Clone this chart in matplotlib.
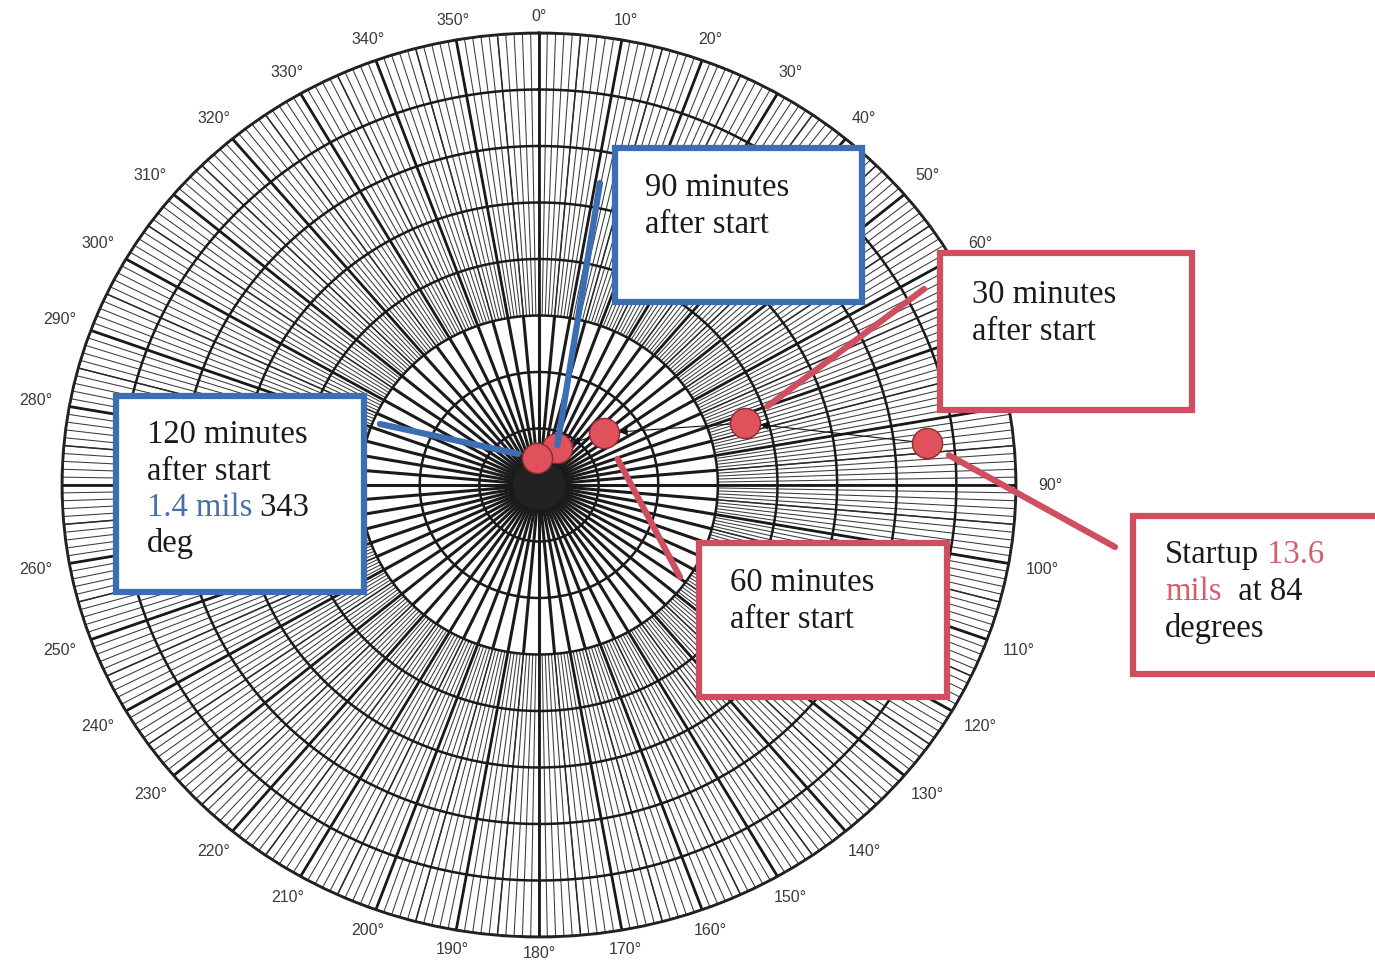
import numpy as np
import matplotlib
matplotlib.use("Agg")
import matplotlib.pyplot as plt
from matplotlib.patches import Rectangle
from matplotlib.text import Annotation

# Data: vibration amplitude (mils) and phase angle (deg)
labels = ["Startup", "30 minutes", "60 minutes", "90 minutes", "120 minutes"]
amplitude = [13.1, 7.25, 2.85, 1.44, 0.96]
phase_deg = [83.5, 72.4, 49.8, 24.6, 356.0]

# Polar paper scale
r_max = 16
ring_step = 2
inner_zone = 6
# 70/80 sit under the 30-minute box, 270 is not printed on the sheet
angle_labels = [a for a in range(0, 360, 10) if a not in (70, 80, 270)]

W, H = 1375, 964
fig = plt.figure(figsize=(W / 100, H / 100), dpi=100)
fig.patch.set_facecolor("white")


def fx(px):
    return px / W


def fy(py):
    return 1 - py / H


# Polar axes stretched like the scanned sheet
ax = fig.add_axes([fx(62), fy(937), fx(1016) - fx(62), fy(33) - fy(937)], projection="polar")
ax.set_aspect("auto")
ax.set_theta_zero_location("N")
ax.set_theta_direction(-1)
ax.set_ylim(0, r_max)
ax.set_xticks([])
ax.set_yticks([])
ax.grid(False)
ax.spines["polar"].set_linewidth(2)
ax.spines["polar"].set_color("#222222")

# Fine hatching in the outer zone (every degree)
fine = np.deg2rad(np.arange(0, 360, 1))
ax.vlines(fine, inner_zone, r_max, color="#3a3a3a", lw=0.75, zorder=1)
five = np.deg2rad(np.arange(0, 360, 5))
ax.vlines(five, inner_zone, r_max, color="#2a2a2a", lw=1.1, zorder=1)
ten = np.deg2rad(np.arange(0, 360, 10))
ax.vlines(ten, inner_zone, r_max, color="#1a1a1a", lw=2.0, zorder=2)

# Spokes in the inner zone
ax.vlines(five, 0, inner_zone, color="#1a1a1a", lw=2.2, zorder=2)

# Rings
th = np.linspace(0, 2 * np.pi, 721)
for r in range(ring_step, r_max + 1, ring_step):
    ax.plot(th, np.full_like(th, r), color="#1a1a1a", lw=1.8, zorder=2)

# Black hub
ax.fill(th, np.full_like(th, 0.85), color="#222222", zorder=3)

# Angle labels
for a in angle_labels:
    t = np.deg2rad(a)
    rl = 16.6 + 0.55 * abs(np.sin(t))
    ax.text(t, rl, f"{a}°", ha="center", va="center", fontsize=11.5,
            color="#3a3a3a", family="Liberation Sans")

# Points and arrows between readings
theta = np.deg2rad(phase_deg)
for i in range(len(amplitude) - 1):
    ax.annotate("", xy=(theta[i + 1], amplitude[i + 1]), xytext=(theta[i], amplitude[i]),
                arrowprops=dict(arrowstyle="-|>", color="#111111", lw=0.8,
                                mutation_scale=12, shrinkA=10, shrinkB=11),
                zorder=4)
ax.scatter(theta, amplitude, s=470, color="#e0515c", edgecolor="#8a2a30",
           linewidth=1.0, zorder=5)

RED = "#cf4e5f"
BLUE = "#3d6db3"
RED_TXT = "#d0606f"
BLUE_TXT = "#4a6fa8"

# Leader lines (box side position in pixels -> reading)
leaders = [
    (0, (1115, 547), RED, 18),
    (1, (924, 289), RED, 20),
    (2, (680, 577), RED, 21),
    (3, (600, 183), BLUE, 2),
    (4, (380, 424), BLUE, 14),
]
for idx, (px, py), col, shr in leaders:
    ax.annotate("", xy=(theta[idx], amplitude[idx]), xytext=(px, H - py),
                textcoords="figure pixels",
                arrowprops=dict(arrowstyle="-", color=col, lw=4.5,
                                shrinkA=0, shrinkB=shr),
                zorder=6)

# Boxes
boxes = [
    (615, 148, 862, 302, BLUE),
    (940, 253, 1192, 410, RED),
    (116, 396, 364, 592, BLUE),
    (699, 543, 947, 697, RED),
    (1133, 516, 1385, 674, RED),
]
for x0, y0, x1, y1, col in boxes:
    fig.add_artist(Rectangle((fx(x0), fy(y1)), fx(x1) - fx(x0), fy(y0) - fy(y1),
                             transform=fig.transFigure, facecolor="white",
                             edgecolor=col, lw=4.5, zorder=10))

TXT = dict(fontsize=23.5, family="Liberation Serif", zorder=11)


def text_line(x, y, parts):
    s, c = parts[0]
    t = fig.text(fx(x), fy(y), s, color=c, va="baseline", ha="left", **TXT)
    for s, c in parts[1:]:
        t = Annotation(s, xy=(1, 0), xycoords=t, va="bottom", ha="left", color=c, **TXT)
        fig.add_artist(t)


K = "#1a1a1a"
text_line(645, 196, [("90 minutes", K)])
text_line(645, 233, [("after start", K)])
text_line(972, 303, [("30 minutes", K)])
text_line(972, 340, [("after start", K)])
text_line(730, 591, [("60 minutes", K)])
text_line(730, 628, [("after start", K)])
text_line(147, 443, [("120 minutes", K)])
text_line(147, 480, [("after start", K)])
text_line(147, 516, [("1.4 mils", BLUE_TXT), (" 343", K)])
text_line(147, 552, [("deg", K)])
text_line(1165, 563, [("Startup", K), (" 13.6", RED_TXT)])
text_line(1165, 600, [("mils", RED_TXT), ("  at 84", K)])
text_line(1165, 637, [("degrees", K)])

fig.savefig("out.png", dpi=100)
